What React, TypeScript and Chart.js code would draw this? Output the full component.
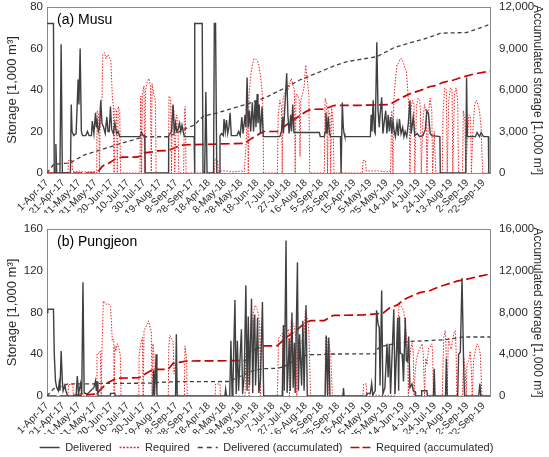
import React, { useEffect, useRef } from 'react';
import { Chart, registerables } from 'chart.js';

Chart.register(...registerables);
Chart.defaults.font.family = '"Liberation Sans", Arial, sans-serif';

// ---------- tick labels (one every 20 days, Apr–Sep of 2017, 2018, 2019) ----------
const xTickLabels = [
  '1-Apr-17', '21-Apr-17', '11-May-17', '31-May-17', '20-Jun-17', '10-Jul-17', '30-Jul-17',
  '19-Aug-17', '8-Sep-17', '28-Sep-17', '18-Apr-18', '8-May-18', '28-May-18', '18-Jun-18',
  '7-Jul-18', '27-Jul-18', '16-Aug-18', '5-Sep-18', '25-Sep-18', '15-Apr-19', '5-May-19',
  '25-May-19', '14-Jun-19', '4-Jul-19', '24-Jul-19', '13-Aug-19', '2-Sep-19', '22-Sep-19',
];
const lastDay = 548;
const seriesNames = ['Delivered', 'Required', 'Delivered (accumulated)', 'Required (accumulated)'];

// ---------- (a) Musu : [day index, value] ----------
const musuDelivered: [number, number][] = [
  [0, 72], [8, 72], [9, 0], [10, 0], [11, 14], [12, 0], [16, 0], [17.5, 62], [19, 0], [29, 0],
  [30, 33], [31, 20], [33, 18], [36, 19], [38.5, 45], [39.5, 33], [41, 60], [42.5, 20], [44, 18],
  [48, 18], [50, 20], [52, 18], [55, 18], [56, 25], [58, 19], [60, 29], [61, 22], [62, 25],
  [63.5, 20], [65, 22], [66.5, 35], [68, 24], [70, 22], [72, 19], [74, 27], [75.5, 20], [77, 20],
  [78.5, 32], [80, 21], [82, 19], [84, 24], [86, 19], [88, 20], [90, 17.5], [115, 17.5],
  [117, 19.5], [119, 18], [121, 18], [121.5, 0], [150, 0], [150.5, 18], [154, 20], [156, 33],
  [157.5, 19], [159, 24], [160.5, 20], [162, 21], [164, 24], [165.5, 20], [167, 23], [169, 19],
  [170, 17.5], [182, 17.5], [182.5, 0], [183, 72], [192, 72], [193, 0], [195, 0], [196.5, 39],
  [198, 0], [206, 0], [207, 72], [208.5, 72], [210, 0], [213, 0], [214, 18], [216, 19], [218, 18],
  [219, 26], [220.5, 20], [222, 25.5], [223.5, 19], [225, 22], [226.5, 29], [228, 18], [235, 18],
  [237, 20], [239, 18], [241, 27], [242.5, 19], [245, 28], [246, 22], [247.5, 46], [249, 22],
  [250.5, 30], [252, 20], [254, 34], [255.5, 20], [257.5, 35], [258.5, 22], [260, 38], [261, 24],
  [262.5, 33], [264, 19], [266, 32], [267.5, 17.5], [288, 17.5], [290, 20], [291.5, 27],
  [292.5, 19], [294, 30], [296.5, 48], [298, 28], [299.5, 19], [301.5, 28], [302.5, 20], [304, 33],
  [305.5, 19.5], [337, 19.5], [338, 17.5], [343, 17.5], [344, 19.5], [345, 29], [346.5, 19],
  [348, 27], [349.5, 19], [351, 17.5], [363, 17.5], [363.8, 0], [364.5, 0], [365.3, 34],
  [366.5, 22], [367.5, 19], [368.5, 17.5], [400, 17.5], [401, 28], [402, 20], [403.5, 35],
  [405, 20], [406, 19], [408, 63], [409.5, 30], [411, 22], [412, 28], [414, 36.5], [415.5, 19],
  [417, 24], [419, 30], [420.5, 19], [422, 28], [423.5, 20], [425, 27], [426.5, 19], [428, 25],
  [429.5, 20], [431, 17.5], [433, 24], [434.5, 18], [436, 26], [438, 19], [440, 22], [441.5, 17.5],
  [443, 20], [445, 17.5], [447, 24], [449, 35], [450.5, 19], [453, 27], [455, 18], [458, 19],
  [461, 17.5], [465, 18], [468, 21], [470, 30], [472, 28.5], [474, 19], [476, 18], [486, 17.5],
  [486.5, 0], [518, 0], [519, 46], [520, 17.5], [530, 17.5], [532, 19.5], [535, 17.5], [537, 19.5],
  [540, 17.5], [546, 17.5], [546.5, 0], [548, 0],
];
const musuRequired: [number, number][] = [
  [0, 0], [26, 0], [26.5, 6], [31, 6], [31.5, 1], [35, 0.5], [40, 1], [45, 0.5], [50, 0.5],
  [55, 0.8], [60, 0.5], [61.5, 0], [62, 30], [64, 28], [65, 0], [66, 33], [68, 35], [69, 57],
  [71, 58], [73, 55], [75, 57], [77, 56], [79, 54], [81, 35], [82, 33], [83, 0], [84, 31], [86, 30],
  [87, 0], [88, 32], [90, 30], [91, 0], [115, 0], [116, 37], [117, 0], [118, 38], [120, 42],
  [121, 0], [122, 40], [124, 44], [126, 45.5], [128, 42], [129, 0], [130, 43], [132, 38], [134, 35],
  [135, 0], [150, 0], [151, 37], [153, 36], [154, 0], [155, 32], [157, 30], [158, 0], [160, 28],
  [162, 25], [163, 0], [169, 0], [170, 30], [171, 32], [172, 0], [207, 0], [208, 7], [211, 6],
  [212, 1], [220, 1], [230, 0.5], [240, 1], [244, 0.5], [246, 12], [248, 30], [249, 0], [250, 38],
  [252, 47], [254, 52], [256, 55], [258, 55], [260, 54], [262, 52], [264, 47], [266, 40], [267, 32],
  [268, 0], [285, 0], [286, 28], [288, 35], [290, 32], [291, 0], [292, 36], [294, 38], [296, 41],
  [298, 40], [300, 42], [302, 45.5], [304, 43], [306, 40], [307, 0], [308, 38], [310, 37.5],
  [312, 35], [313, 8], [314, 35], [316, 38], [318, 41.5], [320, 52], [322, 45], [324, 37], [325, 0],
  [343, 0], [344, 36], [346, 33.5], [347, 0], [348, 30], [350, 28], [351, 0], [352, 32], [354, 24],
  [355, 0], [390, 0], [391, 6], [394, 6], [395, 1], [410, 1], [420, 0.5], [424, 1], [425, 0],
  [426.5, 30], [428, 0], [429, 35], [431, 45], [433, 52], [435, 53], [437, 55], [439, 55],
  [441, 53], [443, 50], [444.5, 49.5], [446, 41.5], [447, 35], [448, 28], [449, 0], [450, 30],
  [452, 35], [454, 33], [455, 0], [457, 32], [459, 36], [461, 35], [462, 30], [463, 0], [465, 25],
  [467, 33], [469, 29], [470, 0], [472, 30], [474, 36], [476, 30], [477, 0], [479, 20], [481, 0],
  [489, 0], [490, 30], [492, 41], [494, 40], [495, 0], [497, 35], [499, 41], [501, 40], [502, 0],
  [504, 38], [506, 41], [508, 35], [509, 0], [514, 0], [515, 30], [517, 25], [518, 0], [520, 15],
  [522, 28], [524, 27], [525, 0], [527, 22], [529, 33], [531, 35], [533, 33], [535, 30], [537, 22],
  [538, 10], [539, 0], [548, 0],
];
const musuDeliveredAcc: [number, number][] = [
  [0, 0], [8, 600], [18, 690], [25, 720], [30, 780], [46, 1300], [79, 1900], [95, 2200],
  [118, 2580], [121, 2620], [150, 2620], [175, 3300], [182, 3450], [193, 4100], [208, 4300],
  [216, 4440], [237, 4800], [258, 5180], [274, 5560], [291, 6050], [312, 6700], [333, 7200],
  [353, 7690], [366, 7950], [374, 8080], [408, 8400], [429, 9050], [449, 9400], [470, 9750],
  [487, 10100], [519, 10150], [533, 10420], [548, 10750],
];
const musuRequiredAcc: [number, number][] = [
  [0, 0], [62, 0], [68, 460], [73, 670], [77, 720], [85, 1030], [93, 1150], [110, 1150],
  [115, 1200], [120, 1450], [132, 1540], [136, 1600], [150, 1620], [160, 1880], [168, 2020],
  [172, 2040], [245, 2140], [253, 2500], [264, 2870], [268, 3000], [285, 3000], [296, 3470],
  [308, 3950], [320, 4430], [326, 4600], [343, 4620], [353, 4840], [356, 4880], [390, 4880],
  [395, 4900], [424, 4950], [433, 5250], [441, 5500], [449, 5730], [461, 5950], [474, 6250],
  [482, 6330], [490, 6550], [503, 6720], [515, 6950], [528, 7150], [548, 7360],
];

// ---------- (b) Pungjeon : [day index, value] ----------
const pungDelivered: [number, number][] = [
  [0, 80], [1, 83], [8, 83], [9, 40], [10.5, 14.5], [12, 8], [14, 5], [15, 12], [16, 5],
  [17.5, 43], [19, 14], [20, 5], [22, 10], [24, 3], [26, 0], [36, 0], [37.5, 19], [39, 2],
  [41.5, 12], [43, 2], [44.5, 109], [46, 3], [50, 2], [54, 5], [58, 8], [60, 14.5], [61, 5],
  [62, 14], [63, 0], [78, 0], [78.5, 2.5], [84, 2.5], [84.5, 0], [131, 0], [132, 25], [133, 0],
  [135, 40], [136, 0], [159, 0], [160, 59], [161, 0], [220, 0], [221, 6.5], [222, 0], [226, 0],
  [227.5, 53], [229, 0], [230, 10], [232.5, 92], [234, 2], [235.5, 53], [237, 5], [240.5, 64],
  [242, 2], [244, 20], [246, 106], [247.5, 5], [249, 76], [250.5, 10], [253, 93], [254.5, 3],
  [256, 72], [257, 78], [258, 10], [260.5, 75], [262, 3], [264, 15], [266.5, 90], [268, 0],
  [291, 0], [292.4, 68], [293.5, 5], [295.7, 149], [297, 3], [299.8, 55], [301, 5], [303, 80],
  [304.5, 8], [306, 51], [307, 3], [309.8, 128], [311, 5], [312.5, 59], [313.5, 38], [315, 10],
  [316.5, 72], [318, 5], [320.4, 87], [322, 0], [344, 0], [345.5, 58], [347, 0], [348.5, 56],
  [350, 0], [366, 0], [366.8, 7.5], [367.5, 0], [395, 0], [396, 2.5], [400, 2.5], [401.6, 12],
  [403, 1], [406, 5], [407.6, 82], [409.7, 68], [411, 66], [412, 10], [414, 101], [415.5, 2],
  [418, 8], [420.6, 50], [422, 18], [423.5, 50], [425, 2], [429, 83], [430.5, 2], [433.8, 75],
  [435, 5], [436, 76], [437, 41], [439.2, 40], [440, 31], [441, 14], [443.2, 75], [444.5, 34],
  [446, 33], [447.4, 57], [449, 8], [451.5, 11.5], [453, 5], [455.6, 4], [456, 0], [463, 0],
  [463.5, 5], [470, 5], [470.5, 0], [478, 0], [479, 26], [480, 0], [493, 0], [494, 36], [495, 0],
  [508, 0], [509.2, 40], [511.3, 42], [513.4, 113], [515.4, 30], [516.5, 0], [534, 0],
  [535.5, 12], [536.5, 0], [548, 0],
];
const pungRequired: [number, number][] = [
  [0, 0], [26, 0], [26.5, 11], [32, 11], [32.5, 0], [38, 0], [38.5, 2.5], [44, 2.5], [44.5, 0],
  [61.5, 0], [62, 41], [64, 41], [66, 43], [67, 0], [68, 45], [69.7, 91], [72.5, 88], [76.7, 88],
  [78.7, 85], [80.8, 53], [82.5, 54.6], [83, 0], [84, 48], [85, 43], [87, 50], [89, 46], [91, 37],
  [91.5, 0], [113.5, 0], [114, 40], [116, 50], [118, 56], [119, 0], [120, 62], [122, 66], [124, 69],
  [125.6, 72], [127.4, 66], [129, 62], [130, 0], [131, 50], [132.3, 40], [133, 0], [150, 0],
  [150.7, 47], [152, 58], [154, 55], [156, 52], [157, 21], [159, 31], [161, 11.5], [162, 0],
  [170, 0], [170.7, 48], [172.8, 34], [173.5, 0], [208, 0], [208.5, 11.5], [214, 11.5],
  [214.5, 0], [245, 0], [245.8, 40], [248, 46], [250, 0], [251, 52], [253, 59], [255, 78],
  [257.7, 87], [260, 83], [261.8, 77], [263, 70], [264, 0], [265, 66], [266, 50], [267.4, 48],
  [268, 0], [285, 0], [286.5, 55], [289, 58], [291, 60], [292, 0], [293.6, 68], [295, 66],
  [297, 62], [299, 64], [300, 0], [302, 72], [304, 70], [306, 66], [308, 55], [309, 0], [310, 54],
  [312, 52], [314, 50], [316, 55], [318, 60], [319.6, 82], [321, 78], [323, 70], [324, 60],
  [326, 0], [344, 0], [344.5, 56], [346.5, 55], [347.5, 0], [348.5, 53], [349.4, 47], [351, 38],
  [353, 0], [391, 0], [391.5, 11.5], [395, 11.5], [395.5, 1], [400, 1], [430, 0], [430.5, 28],
  [432.6, 38], [434, 60], [435.5, 88], [438, 86], [440, 84], [441.5, 80], [443, 70], [444.4, 59],
  [446, 43], [447, 0], [448, 30], [450, 45], [451.5, 51], [453, 43], [454, 0], [455.5, 24],
  [457, 35], [459.7, 43], [462, 47], [464, 50], [465.5, 40], [467, 0], [468.5, 36], [470, 30],
  [472, 46], [474, 47], [476, 50], [477, 43], [478, 0], [489, 0], [490.7, 56], [492.7, 62.6],
  [494, 37], [495, 0], [496.5, 56], [498, 50], [500, 45], [501.5, 52], [503, 59.4], [505, 62.6],
  [506, 45], [507, 0], [514, 0], [515.4, 37], [517.5, 24], [518.5, 0], [519.6, 30.7], [521.5, 33],
  [523.6, 43], [525, 24], [526, 0], [527.7, 34], [529.8, 43], [531.9, 50], [534, 47], [536, 40],
  [537, 20], [538, 0], [548, 0],
];
const pungDeliveredAcc: [number, number][] = [
  [0, 0], [8, 680], [17, 900], [26, 1150], [62, 1170], [65, 1200], [131, 1230], [136, 1300],
  [160, 1370], [227, 1390], [232, 1650], [241, 1950], [248, 2200], [256, 2450], [268, 2620],
  [285, 2650], [293, 2800], [296, 2950], [303, 3250], [310, 3600], [320, 3880], [326, 3950],
  [345, 3980], [350, 4020], [406, 4030], [408, 4450], [412, 4700], [420, 4850], [430, 5000],
  [440, 5150], [449, 5230], [470, 5300], [491, 5380], [507, 5550], [515, 5650], [548, 5650],
];
const pungRequiredAcc: [number, number][] = [
  [0, 0], [26, 0], [32, 50], [44, 80], [62, 200], [65.6, 570], [73.8, 1210], [86, 1700],
  [114, 1750], [123, 2170], [131, 2550], [150, 2560], [156, 3130], [168.6, 3290], [173, 3350],
  [245, 3390], [250, 3650], [255, 4400], [267.4, 4790], [285, 4820], [296, 5620], [308, 6260],
  [320, 7060], [326.6, 7220], [343, 7220], [353.4, 7700], [356, 7720], [391, 7760], [407, 7860],
  [416, 7950], [424, 8450], [433, 8700], [441, 9200], [449, 9500], [461, 9900], [474, 10100],
  [486, 10500], [491, 10600], [507, 11000], [518, 11150], [531, 11400], [548, 11680],
];

// ---------- axis ranges ----------
const musuLeft = { max: 80, step: 20 };
const musuRight = { max: 12000, step: 3000 };
const pungLeft = { max: 160, step: 40 };
const pungRight = { max: 16000, step: 4000 };

const TEXT = '#2b2b2b';
const FRAME = '#8a8a8a';

type Panel = {
  title: string;
  delivered: [number, number][];
  required: [number, number][];
  deliveredAcc: [number, number][];
  requiredAcc: [number, number][];
  left: { max: number; step: number };
  right: { max: number; step: number };
  xHeight: number;
  leftWidth: number;
  leftTitlePad: number;
  showLegend: boolean;
  legendMaxHeight: number;
};

const toPts = (arr: [number, number][]) => arr.map(([x, y]) => ({ x, y }));

const legendDash: (number[] | undefined)[] = [undefined, [2, 1.5], [5, 4], [9, 3]];

function legendLabels(chart: any) {
  const items = (Chart.defaults as any).plugins.legend.labels.generateLabels(chart);
  return items.map((it: any, i: number) => ({
    ...it,
    lineWidth: i === 1 ? 1.6 : Math.max(it.lineWidth || 1, 1.5),
    lineDash: legendDash[i] ?? it.lineDash,
  }));
}

function buildConfig(p: Panel): any {
  const framePlugin = {
    id: 'frame' + p.title.length,
    beforeDatasetsDraw(chart: any) {
      const { ctx, chartArea: a } = chart;
      ctx.save();
      ctx.strokeStyle = FRAME;
      ctx.lineWidth = 1;
      ctx.strokeRect(Math.round(a.left) + 0.5, Math.round(a.top) + 0.5, Math.round(a.right - a.left), Math.round(a.bottom - a.top));
      ctx.restore();
    },
    afterDraw(chart: any) {
      const { ctx, chartArea: a } = chart;
      ctx.save();
      ctx.fillStyle = '#000';
      ctx.font = '14px "Liberation Sans", Arial, sans-serif';
      ctx.textBaseline = 'top';
      ctx.textAlign = 'left';
      ctx.fillText(p.title, a.left + 10, a.top + 6);
      ctx.restore();
    },
  };
  const common = { pointRadius: 0, pointHoverRadius: 0, tension: 0, fill: false, pointStyle: 'line' };
  return {
    type: 'line',
    data: {
      datasets: [
        { ...common, label: seriesNames[0], data: toPts(p.delivered), borderColor: '#404040', borderWidth: 1.4, yAxisID: 'y' },
        { ...common, label: seriesNames[1], data: toPts(p.required), borderColor: '#ee2222', borderWidth: 1, borderDash: [1.5, 1.5], yAxisID: 'y' },
        { ...common, label: seriesNames[2], data: toPts(p.deliveredAcc), borderColor: '#404040', borderWidth: 1.3, borderDash: [4, 3], yAxisID: 'y1' },
        { ...common, label: seriesNames[3], data: toPts(p.requiredAcc), borderColor: '#c80000', borderWidth: 1.7, borderDash: [9, 4], yAxisID: 'y1' },
      ],
    },
    plugins: [framePlugin],
    options: {
      responsive: false,
      animation: false,
      events: [],
      layout: { padding: { top: 0, left: 0, right: 0, bottom: 0 } },
      scales: {
        x: {
          type: 'linear',
          min: 0,
          max: lastDay,
          grid: { display: false, drawTicks: false },
          border: { display: false },
          afterFit: (s: any) => { s.height = p.xHeight; },
          ticks: {
            stepSize: 20,
            includeBounds: false,
            autoSkip: false,
            maxRotation: 45,
            minRotation: 45,
            padding: 4,
            color: TEXT,
            font: { size: 10.2 },
            callback: (v: number) => xTickLabels[Math.round(v / 20)] ?? '',
          },
        },
        y: {
          position: 'left',
          min: 0,
          max: p.left.max,
          grid: { display: false, drawTicks: false },
          border: { display: false },
          afterFit: (s: any) => { s.width = p.leftWidth; },
          ticks: { stepSize: p.left.step, padding: 4, color: TEXT, font: { size: 11.5 } },
          title: { display: true, text: 'Storage [1,000 m³]', color: TEXT, font: { size: 13 }, padding: { top: p.leftTitlePad, bottom: 0 } },
        },
        y1: {
          position: 'right',
          min: 0,
          max: p.right.max,
          grid: { display: false, drawTicks: false },
          border: { display: false },
          afterFit: (s: any) => { s.width = 59; },
          ticks: {
            stepSize: p.right.step,
            padding: 9,
            color: TEXT,
            font: { size: 11.5 },
            callback: (v: number) => v.toLocaleString('en-US'),
          },
          title: { display: true, text: 'Accumulated storage [1,000 m³]', color: TEXT, font: { size: 12 }, padding: { top: 4, bottom: 0 } },
        },
      },
      plugins: {
        tooltip: { enabled: false },
        legend: {
          display: p.showLegend,
          position: 'bottom',
          maxHeight: p.legendMaxHeight,
          labels: {
            usePointStyle: true,
            pointStyle: 'line',
            pointStyleWidth: 20,
            boxHeight: 11,
            padding: 8,
            color: TEXT,
            font: { size: 11 },
            generateLabels: legendLabels,
          },
        },
      },
    },
  };
}

export default function App() {
  const topRef = useRef<HTMLCanvasElement>(null);
  const botRef = useRef<HTMLCanvasElement>(null);

  useEffect(() => {
    const c1 = new Chart(topRef.current as HTMLCanvasElement, buildConfig({
      title: '(a) Musu',
      delivered: musuDelivered,
      required: musuRequired,
      deliveredAcc: musuDeliveredAcc,
      requiredAcc: musuRequiredAcc,
      left: musuLeft,
      right: musuRight,
      xHeight: 40,
      leftWidth: 47,
      leftTitlePad: 5,
      showLegend: false,
      legendMaxHeight: 0,
    }));
    const c2 = new Chart(botRef.current as HTMLCanvasElement, buildConfig({
      title: '(b) Pungjeon',
      delivered: pungDelivered,
      required: pungRequired,
      deliveredAcc: pungDeliveredAcc,
      requiredAcc: pungRequiredAcc,
      left: pungLeft,
      right: pungRight,
      xHeight: 38,
      leftWidth: 63,
      leftTitlePad: 21,
      showLegend: true,
      legendMaxHeight: 23,
    }));
    return () => {
      c1.destroy();
      c2.destroy();
    };
  }, []);

  return (
    <div style={{ position: 'absolute', left: 0, top: 0, width: 549, height: 457, overflow: 'hidden', background: '#fff' }}>
      <canvas ref={topRef} width={549} height={222} style={{ position: 'absolute', left: 0, top: -9 }} />
      <canvas ref={botRef} width={565} height={244} style={{ position: 'absolute', left: -16, top: 213 }} />
    </div>
  );
}
